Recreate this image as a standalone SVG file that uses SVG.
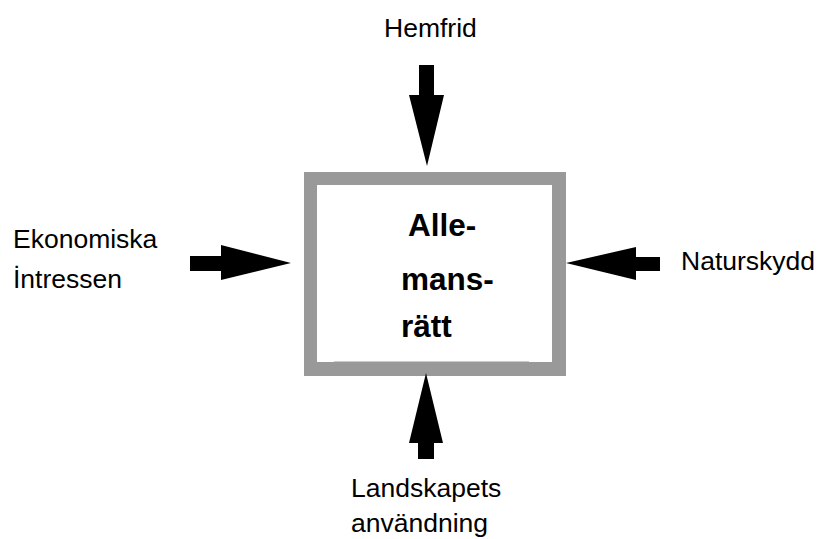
<svg xmlns="http://www.w3.org/2000/svg" width="817" height="539" viewBox="0 0 817 539">
<style>
.lbl{font-family:"Liberation Sans",Arial,sans-serif;font-size:26.5px;fill:#000}
.title{font-family:"Liberation Sans",Arial,sans-serif;font-size:31.5px;font-weight:bold;fill:#000}
.arrow{fill:#000;stroke:none}
</style>
<rect width="817" height="539" fill="#fff"/>
<g id="allemansratt">
<rect x="304" y="172" width="262" height="204" fill="#999"/>
<rect x="317" y="185" width="235" height="177" fill="#fff"/>
<line x1="334" y1="361.5" x2="529" y2="361.5" stroke="#ccc" stroke-width="1"/>
<text class="title" x="408" y="236">Alle-</text>
<text class="title" x="401" y="290">mans-</text>
<text class="title" x="401" y="337">rätt</text>
</g>
<g id="hemfrid">
<text class="lbl" x="384" y="37">Hemfrid</text>
</g>
<g id="ekonomiska">
<text class="lbl" x="13" y="248">Ekonomiska</text>
<text class="lbl" x="13" y="288">İntressen</text>
</g>
<g id="naturskydd">
<text class="lbl" x="681" y="270">Naturskydd</text>
</g>
<g id="landskapets">
<text class="lbl" x="351" y="497">Landskapets</text>
<text class="lbl" x="351" y="532">användning</text>
</g>
<g id="connectors">
<polygon class="arrow" points="419,65 434,65 434,95 444,95 427,166 409,95 419,95"/>
<polygon class="arrow" points="190,256 221,256 221,245 291,263 221,280 221,271 190,271"/>
<polygon class="arrow" points="660,257 636,257 636,247 566,263 636,280 636,271 660,271"/>
<polygon class="arrow" points="418,459 434,459 434,443 443,443 426,373 409,443 418,443"/>
</g>
</svg>
